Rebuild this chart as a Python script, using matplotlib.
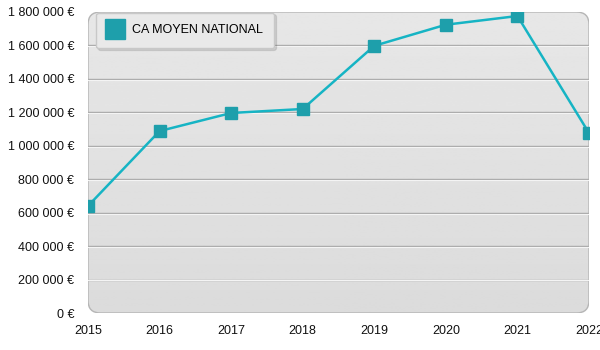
import matplotlib.pyplot as plt
import numpy as np
from matplotlib.patches import FancyBboxPatch
from matplotlib.ticker import FuncFormatter
from matplotlib.lines import Line2D

plt.rcParams["font.family"] = ["Liberation Sans", "DejaVu Sans"]

years = [2015, 2016, 2017, 2018, 2019, 2020, 2021, 2022]
ca_moyen = [640000, 1088000, 1196000, 1220000, 1598000, 1724000, 1776000, 1076000]
series_label = "CA MOYEN NATIONAL"
y_ticks = list(range(0, 1800001, 200000))

LINE = "#16b4c4"
MARK = "#1e9fab"

fig = plt.figure(figsize=(6, 3.5), dpi=100)
ax = fig.add_axes([88 / 600, 37 / 350, 501 / 600, 301 / 350])
ax.set_xlim(years[0], years[-1])
ax.set_ylim(0, 1800000)

# rounded grey panel with a soft vertical gradient
panel = FancyBboxPatch((0, 0), 1, 1, boxstyle="round,pad=0,rounding_size=0.025",
                       transform=ax.transAxes, facecolor="none",
                       edgecolor="#b5b5b5", lw=1.0, zorder=0.5, mutation_aspect=501 / 301)
ax.add_patch(panel)
grad = np.linspace(0.905, 0.86, 256).reshape(-1, 1)
im = ax.imshow(grad, cmap="gray", vmin=0, vmax=1, aspect="auto",
               extent=[years[0], years[-1], 0, 1800000], origin="upper", zorder=0)
im.set_clip_path(panel)

for v in y_ticks[1:-1]:
    ax.axhline(v, color="#a9a9a9", lw=1.0, zorder=1)
    ax.axhline(v - 5200, color="#f4f4f4", lw=0.8, zorder=1)

ax.plot(years, ca_moyen, color=LINE, lw=1.8, zorder=3)
ax.plot(years, ca_moyen, ls="none", marker="s", ms=8.5, mfc=MARK, mec=MARK, zorder=4)

for s in ax.spines.values():
    s.set_visible(False)
ax.set_xticks(years)
ax.set_yticks(y_ticks)
ax.yaxis.set_major_formatter(FuncFormatter(lambda v, p: f"{int(v):,} €".replace(",", " ")))
ax.tick_params(length=0, labelsize=9, colors="#111111")
ax.tick_params(axis="y", pad=10)
ax.tick_params(axis="x", pad=9)

handle = Line2D([], [], ls="none", marker="s", ms=14, mfc=MARK, mec=MARK)
leg = ax.legend([handle], [series_label], loc="upper left", bbox_to_anchor=(0.016, 0.998),
                fontsize=9, frameon=True, fancybox=True, shadow={"ox": 1.5, "oy": -1.5, "alpha": 0.15},
                handlelength=1.1, handletextpad=0.8, borderpad=0.95, borderaxespad=0)
leg.get_frame().set_facecolor("#e9e9e9")
leg.get_frame().set_edgecolor("#c8c8c8")
leg.get_frame().set_alpha(1)

fig.savefig("out.png", dpi=100)
